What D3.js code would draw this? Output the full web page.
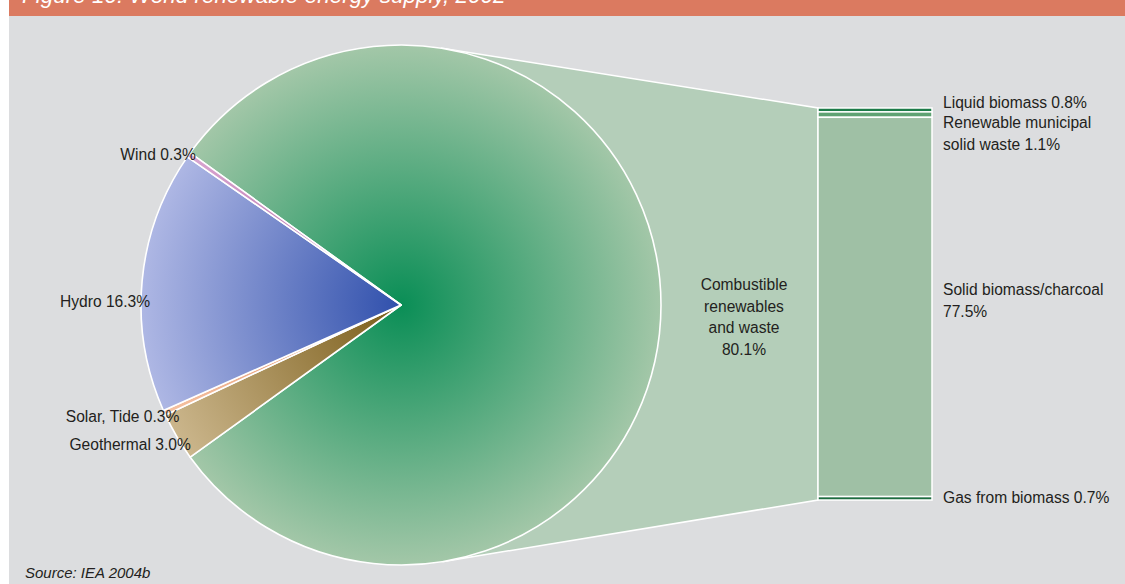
<!DOCTYPE html>
<html>
<head>
<meta charset="utf-8">
<script src="https://cdn.jsdelivr.net/npm/d3@7"></script>
<style>
  body { margin: 0; background: #fff; }
  svg { display: block; font-family: "Liberation Sans", Arial, Helvetica, sans-serif; }
</style>
</head>
<body>
<svg id="chart" width="1125" height="584"></svg>
<script>
// data
const pieLabels = [`Combustible renewables and waste`, `Geothermal`, `Solar, Tide`, `Hydro`, `Wind`];
const pieValues = [80.1, 3.0, 0.3, 16.3, 0.3];
const barLabels = [`Liquid biomass`, `Renewable municipal solid waste`, `Solid biomass/charcoal`, `Gas from biomass`];
const barValues = [0.8, 1.1, 77.5, 0.7];
const title = `Figure 10: World renewable energy supply, 2002`;
const source = `Source: IEA 2004b`;

const W = 1125, H = 584;
const cx = 401, cy = 305, R = 260;
const bar = {x0: 818, x1: 932, top: 108, bottom: 500};

const pieColors = [
  [`#0a8e56`, `#a3c7a8`],
  [`#7a5c18`, `#cbb68c`],
  [`#e08a60`, `#f5c2a2`],
  [`#3050ac`, `#aeb7e4`],
  [`#b060a0`, `#d8a6d0`],
];
const barColors = [`#1d7b49`, `#5fa273`, `#9fc0a5`, `#1e6c40`];

const svg = d3.select(`#chart`);
const defs = svg.append(`defs`);

// background + title bar (title sits mostly above the visible area, as in the original)
svg.append(`rect`).attr(`x`, 9).attr(`y`, 0).attr(`width`, W - 9).attr(`height`, H).attr(`fill`, `#dcdddf`);
svg.append(`rect`).attr(`x`, 9).attr(`y`, 0).attr(`width`, W - 9).attr(`height`, 16).attr(`fill`, `#db7a60`);
svg.append(`text`)
  .attr(`x`, 22).attr(`y`, 3)
  .attr(`fill`, `#fff`)
  .style(`font-style`, `italic`)
  .style(`font-size`, `22.5px`)
  .text(title);

// pie layout: the combustible slice is centred on the right-hand horizontal
const total = d3.sum(pieValues);
const bigAngle = pieValues[0] / total * 2 * Math.PI;
const start = Math.PI / 2 - bigAngle / 2;
const pie = d3.pie().sort(null).value(d => d).startAngle(start).endAngle(start + 2 * Math.PI);
const arcs = pie(pieValues);
const arc = d3.arc().innerRadius(0).outerRadius(R);

// bar scale
const barTotal = d3.sum(barValues);
const y = d3.scaleLinear().domain([0, barTotal]).range([bar.top, bar.bottom]);
const stack = [];
let acc = 0;
barValues.forEach((v, i) => { stack.push({i, v, y0: acc, y1: acc + v}); acc += v; });

// connector: tangents from the bar corners to the circle
const tangent = (px, py, upper) => {
  const dx = px - cx, dy = py - cy;
  const d = Math.hypot(dx, dy);
  const base = Math.atan2(dy, dx);
  const off = Math.acos(R / d);
  const a = upper ? base - off : base + off;
  return [cx + R * Math.cos(a), cy + R * Math.sin(a)];
};
const tTop = tangent(bar.x0, y(0), true);
const tBot = tangent(bar.x0, y(barTotal), false);
svg.append(`polygon`)
  .attr(`points`, [tTop, [bar.x0, y(0)], [bar.x0, y(barTotal)], tBot, [cx, cy]].map(p => p.join(`,`)).join(` `))
  .attr(`fill`, `#b4ceb9`)
  .attr(`stroke`, `#fff`)
  .attr(`stroke-width`, 1.5);

// radial gradients, in the pie group's own coordinates
pieColors.forEach((c, i) => {
  const g = defs.append(`radialGradient`)
    .attr(`id`, `grad${i}`)
    .attr(`gradientUnits`, `userSpaceOnUse`)
    .attr(`cx`, 0).attr(`cy`, 0).attr(`r`, R);
  g.append(`stop`).attr(`offset`, `0%`).attr(`stop-color`, c[0]);
  g.append(`stop`).attr(`offset`, `100%`).attr(`stop-color`, c[1]);
});

const pieG = svg.append(`g`).attr(`transform`, `translate(${cx},${cy})`);
pieG.selectAll(`path`)
  .data(arcs)
  .enter().append(`path`)
    .attr(`d`, arc)
    .attr(`fill`, (d, i) => `url(#grad${i})`)
    .attr(`stroke`, `#fff`)
    .attr(`stroke-width`, 1.6)
    .attr(`stroke-linejoin`, `round`);

// bar segments
svg.selectAll(`.seg`)
  .data(stack)
  .enter().append(`rect`)
    .attr(`class`, `seg`)
    .attr(`x`, bar.x0)
    .attr(`y`, d => y(d.y0))
    .attr(`width`, bar.x1 - bar.x0)
    .attr(`height`, d => y(d.y1) - y(d.y0))
    .attr(`fill`, d => barColors[d.i])
    .attr(`stroke`, `#fff`)
    .attr(`stroke-width`, 1.5);

// labels
const fmt = d3.format(`.1f`);
const lab = svg.append(`g`).attr(`fill`, `#231f20`).style(`font-size`, `15.6px`);

// pie labels: anchored at the outer point of each slice, nudged like the original
const pieLabelOffsets = [null, [14, 13], [15, 9], [8, 26], [7, 5]];
arcs.forEach((a, i) => {
  if (i === 0) return;
  const m = (a.startAngle + a.endAngle) / 2;
  const px = cx + R * Math.sin(m), py = cy - R * Math.cos(m);
  const o = pieLabelOffsets[i];
  lab.append(`text`)
    .attr(`x`, px + o[0]).attr(`y`, py + o[1])
    .attr(`text-anchor`, `end`)
    .text(`${pieLabels[i]} ${fmt(pieValues[i])}%`);
});

// combustible label
const comb = [`Combustible`, `renewables`, `and waste`, `${fmt(pieValues[0])}%`];
lab.append(`text`)
  .attr(`text-anchor`, `middle`)
  .selectAll(`tspan`)
  .data(comb)
  .enter().append(`tspan`)
    .attr(`x`, 744)
    .attr(`y`, (d, i) => 290 + i * 21.5)
    .text(d => d);

// bar labels
const barLabelLines = [
  [`${barLabels[0]} ${fmt(barValues[0])}%`],
  [`Renewable municipal`, `solid waste ${fmt(barValues[1])}%`],
  [barLabels[2], `${fmt(barValues[2])}%`],
  [`${barLabels[3]} ${fmt(barValues[3])}%`],
];
const barLabelY = [108, 128, 295, 503];
barLabelLines.forEach((lines, i) => {
  lab.append(`text`)
    .selectAll(`tspan`)
    .data(lines)
    .enter().append(`tspan`)
      .attr(`x`, 943)
      .attr(`y`, (d, j) => barLabelY[i] + j * 21.5)
      .text(d => d);
});

// source
svg.append(`text`)
  .attr(`x`, 25).attr(`y`, 578)
  .attr(`fill`, `#231f20`)
  .style(`font-style`, `italic`)
  .style(`font-size`, `15px`)
  .text(source);
</script>
</body>
</html>
